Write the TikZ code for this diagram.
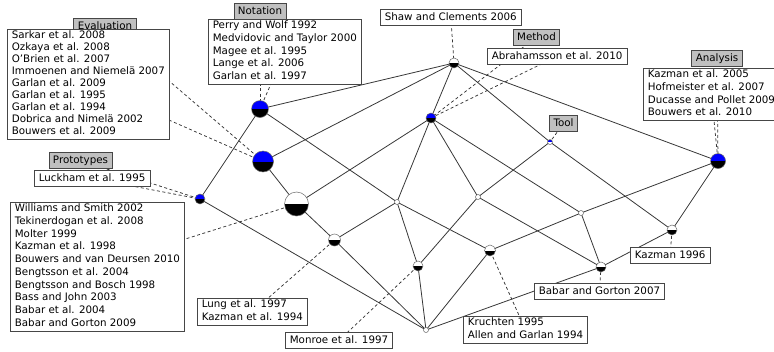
\documentclass[tikz,border=0pt]{standalone}
\usepackage{fontspec}
\setmainfont{DejaVu Sans}
\pgfdeclarelayer{wires}
\pgfsetlayers{wires,main}
\definecolor{wire}{RGB}{55,55,55}
\definecolor{tagfill}{RGB}{192,192,192}
\definecolor{frame}{RGB}{70,70,70}
\definecolor{ring}{RGB}{105,105,105}
\definecolor{attrblue}{RGB}{0,0,255}
\newcommand{\linestrut}{\rule[-3.2pt]{0pt}{12.7pt}}

\begin{document}
\begin{tikzpicture}[x=1pt,y=-1pt,
  concept/.style n args={3}{circle, inner sep=0pt, minimum size=#3, draw=ring, line width=0.5pt,
    path picture={
      \fill[#1] (path picture bounding box.north west) rectangle (path picture bounding box.east);
      \fill[#2] (path picture bounding box.west) rectangle (path picture bounding box.south east);}},
  listbox/.style={draw=frame, fill=white, line width=0.7pt, inner xsep=4.5pt, inner ysep=1.65pt,
    align=left, anchor=north west, font=\fontsize{10.3}{12.7}\selectfont,
    execute at begin node=\linestrut, execute at end node=\linestrut},
  tagbox/.style={draw=frame, fill=tagfill, line width=0.7pt, inner xsep=4pt, inner ysep=1.65pt,
    font=\fontsize{10.3}{12.7}\selectfont, text height=9.5pt, text depth=3.2pt},
  edge/.style={draw=wire, line width=0.8pt},
  leader/.style={draw=wire, line width=0.75pt, dash pattern=on 3pt off 2.5pt}]

\useasboundingbox (0,0) rectangle (774,351);

% lattice concepts: top half = own attribute, bottom half = own objects
\node[concept={white}{black}{10pt}]        (T)   at (454,63)  {};
\node[concept={attrblue}{black}{17pt}]     (N)   at (260,109) {};
\node[concept={attrblue}{black}{21pt}]     (E)   at (263,161.5) {};
\node[concept={attrblue}{black}{10pt}]     (P)   at (200,199) {};
\node[concept={attrblue}{black}{10pt}]     (M)   at (431,118) {};
\node[concept={attrblue}{white}{5pt}]      (Tl)  at (550,142) {};
\node[concept={attrblue}{black}{15pt}]     (A)   at (718,161) {};
\node[concept={white}{black}{24pt}]        (B)   at (296.5,204) {};
\node[concept={white}{black}{12pt}]        (L)   at (334.5,240) {};
\node[concept={white}{white}{5pt}]         (s1)  at (397,202) {};
\node[concept={white}{white}{5pt}]         (s2)  at (478,197) {};
\node[concept={white}{white}{5pt}]         (s4)  at (581,213) {};
\node[concept={white}{black}{10pt}]        (Mo)  at (418,266) {};
\node[concept={white}{black}{11pt}]        (K)   at (490,250.5) {};
\node[concept={white}{black}{10pt}]        (BG)  at (601,267) {};
\node[concept={white}{black}{10pt}]        (KZ)  at (672,230) {};
\node[concept={white}{white}{5pt}]         (Bot) at (426,330) {};

% attribute tags
\node[tagbox] (evaltag)  at (105,26)     {Evaluation};
\node[tagbox] (nottag)   at (260,11)     {Notation};
\node[tagbox] (prototag) at (80.5,160.5) {Prototypes};
\node[tagbox] (methtag)  at (536.5,37)   {Method};
\node[tagbox] (anatag)   at (717,58)     {Analysis};
\node[tagbox] (tooltag)  at (563.5,123.5) {Tool};

% object lists
\node[listbox] (shawbox) at (380,9) {Shaw and Clements 2006};
\node[listbox, font=\fontsize{10.3}{12.0}\selectfont] (evallist) at (7,29)
  {Sarkar et al. 2008\\Ozkaya et al. 2008\\O'Brien et al. 2007\\Immoenen and Niemelä 2007\\Garlan et al. 2009\\Garlan et al. 1995\\Garlan et al. 1994\\Dobrica and Nimelä 2002\\Bouwers et al. 2009};
\node[listbox] (notlist) at (208,19)
  {Perry and Wolf 1992\\Medvidovic and Taylor 2000\\Magee et al. 1995\\Lange et al. 2006\\Garlan et al. 1997};
\node[listbox] (protolist) at (34,170) {Luckham et al. 1995};
\node[listbox] (biglist) at (10,202)
  {Williams and Smith 2002\\Tekinerdogan et al. 2008\\Molter 1999\\Kazman et al. 1998\\Bouwers and van Deursen 2010\\Bengtsson et al. 2004\\Bengtsson and Bosch 1998\\Bass and John 2003\\Babar et al. 2004\\Babar and Gorton 2009};
\node[listbox] (methlist) at (487,48) {Abrahamsson et al. 2010};
\node[listbox] (analist) at (643,68)
  {Kazman et al. 2005\\Hofmeister et al. 2007\\Ducasse and Pollet 2009\\Bouwers et al. 2010};
\node[listbox] (kzbox) at (630,247) {Kazman 1996};
\node[listbox] (bgbox) at (534,283) {Babar and Gorton 2007};
\node[listbox] (krbox) at (463,316) {Kruchten 1995\\Allen and Garlan 1994};
\node[listbox] (lungbox) at (197,298) {Lung et al. 1997\\Kazman et al. 1994};
\node[listbox] (monbox) at (285,332) {Monroe et al. 1997};

\begin{pgfonlayer}{wires}
  % lattice edges
  \foreach \a/\b in {T/N, T/E, T/M, T/Tl, T/A, N/P, N/s1, E/B, M/B, M/s1, M/s2, M/s4,
                     Tl/s2, Tl/KZ, A/s4, A/KZ, B/L, P/Bot, L/s1, L/Bot, s1/Mo, s1/K,
                     s2/Mo, s2/BG, s4/BG, s4/K, KZ/BG, Mo/Bot, K/Bot, BG/Bot}
    \draw[edge] (\a.center) -- (\b.center);
  % label leaders
  \foreach \a/\b in {shawbox/T, evaltag/E, evallist/E, nottag/N, notlist/N, prototag/P,
                     protolist/P, biglist/B, methtag/M, methlist/M, anatag/A, analist/A,
                     tooltag/Tl, kzbox/KZ, bgbox/BG, krbox/K, lungbox/L, monbox/Mo}
    \draw[leader] (\a.center) -- (\b.center);
\end{pgfonlayer}
\end{tikzpicture}
\end{document}
